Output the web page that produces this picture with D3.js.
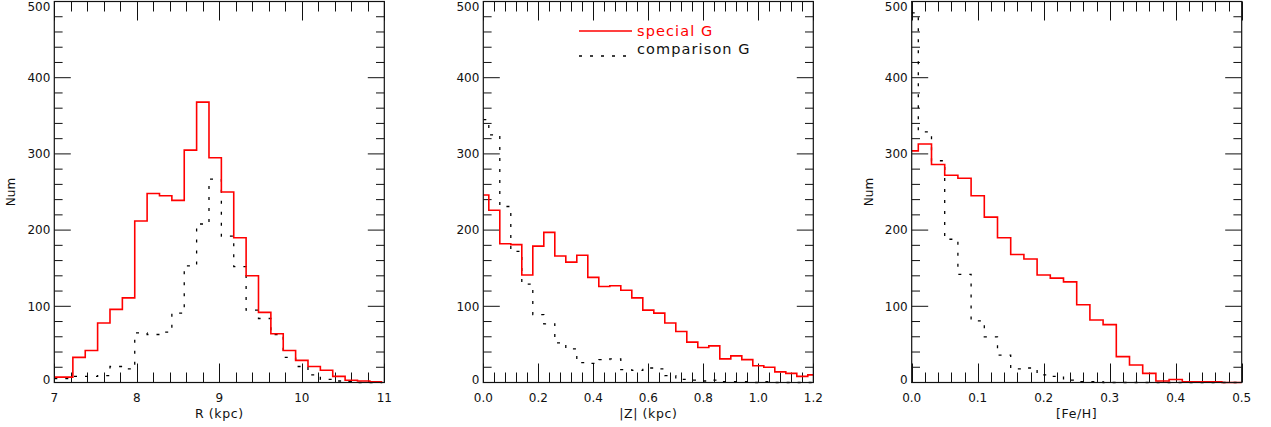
<!DOCTYPE html>
<html>
<head>
<meta charset="utf-8">
<script src="https://cdn.jsdelivr.net/npm/d3@7"></script>
<style>
  html, body { margin: 0; padding: 0; background: #fff; }
  svg { display: block; }
  text { font-family: "DejaVu Sans", sans-serif; fill: #111; }
</style>
</head>
<body>
<svg id="chart" width="1271" height="427"></svg>
<script>
// Galactocentric radius histogram (bin centres, kpc)
const rCenters = [7.00, 7.15, 7.30, 7.45, 7.60, 7.75, 7.90, 8.05, 8.20, 8.35, 8.50, 8.65, 8.80, 8.95,
                  9.10, 9.25, 9.40, 9.55, 9.70, 9.85, 10.00, 10.15, 10.30, 10.45, 10.60, 10.75, 10.90];
const rSpecial = [7, 7, 33, 42, 78, 96, 111, 212, 248, 245, 239, 305, 368, 295,
                  250, 190, 140, 92, 64, 42, 29, 21, 16, 8, 3, 2, 1];
const rComparison = [5, 5, 8, 8, 9, 21, 18, 65, 63, 66, 91, 153, 208, 267,
                     192, 152, 95, 84, 63, 33, 21, 10, 4, 2, 1, 0, 0];

// Height above the plane |Z| (bin centres, kpc)
const zCenters = [0.00, 0.04, 0.08, 0.12, 0.16, 0.20, 0.24, 0.28, 0.32, 0.36, 0.40, 0.44, 0.48, 0.52, 0.56, 0.60,
                  0.64, 0.68, 0.72, 0.76, 0.80, 0.84, 0.88, 0.92, 0.96, 1.00, 1.04, 1.08, 1.12, 1.16, 1.20];
const zSpecial = [246, 226, 182, 181, 141, 179, 197, 166, 158, 167, 138, 126, 127, 121, 111, 95,
                  91, 78, 67, 53, 46, 48, 31, 35, 30, 22, 20, 14, 12, 8, 10];
const zComparison = [345, 325, 231, 172, 129, 89, 77, 52, 44, 26, 25, 30, 31, 17, 16, 19,
                     18, 9, 4, 3, 2, 3, 1, 1, 1, 0, 1, 0, 0, 0, 0];

// Metallicity [Fe/H] (bin centres, dex)
const fehCenters = [0.00, 0.02, 0.04, 0.06, 0.08, 0.10, 0.12, 0.14, 0.16, 0.18, 0.20, 0.22, 0.24,
                    0.26, 0.28, 0.30, 0.32, 0.34, 0.36, 0.38, 0.40, 0.42, 0.44, 0.46, 0.48, 0.50];
const fehSpecial = [304, 313, 286, 272, 268, 245, 217, 190, 168, 162, 141, 137, 132,
                    102, 82, 76, 34, 23, 12, 2, 4, 1, 1, 1, 0, 0];
const fehComparison = [485, 329, 291, 188, 142, 81, 60, 36, 18, 19, 10, 8, 3,
                       1, 1, 0, 0, 0, 0, 0, 0, 0, 0, 0, 0, 0];

// Axis ticks
const rTicks = [7, 8, 9, 10, 11];
const zTicks = [0.0, 0.2, 0.4, 0.6, 0.8, 1.0, 1.2];
const fehTicks = [0.0, 0.1, 0.2, 0.3, 0.4, 0.5];
const numTicks = [0, 100, 200, 300, 400, 500];

const seriesNames = ["special G", "comparison G"];

const svg = d3.select("#chart");
const plotW = 330, plotTop = 1.5, plotBottom = 382.5;
const dotted = "3,8";

const panels = [
  { left: 54.3, domain: [7, 11], width: 0.15, centers: rCenters, special: rSpecial, comp: rComparison,
    ticks: rTicks, minor: 0.2, fmt: d3.format("d"), title: "R (kpc)", yTitle: true },
  { left: 483.3, domain: [0, 1.2], width: 0.04, centers: zCenters, special: zSpecial, comp: zComparison,
    ticks: zTicks, minor: 0.04, fmt: d3.format(".1f"), title: "|Z| (kpc)", yTitle: false, legend: true },
  { left: 911.7, domain: [0, 0.5], width: 0.02, centers: fehCenters, special: fehSpecial, comp: fehComparison,
    ticks: fehTicks, minor: 0.02, fmt: d3.format(".1f"), title: "[Fe/H]", yTitle: true }
];

const y = d3.scaleLinear().domain([0, 500]).range([plotBottom, plotTop]);

// Histogram outline: one horizontal run per bin, clipped to the axis range
function stepPoints(centers, values, w, domain) {
  const pts = centers.map((c, i) => [Math.max(c - w / 2, domain[0]), values[i]]);
  const last = centers.length - 1;
  pts.push([Math.min(centers[last] + w / 2, domain[1]), values[last]]);
  return pts;
}

panels.forEach(p => {
  const x = d3.scaleLinear().domain(p.domain).range([p.left, p.left + plotW]);
  const g = svg.append("g");

  // minor / major tick values
  const nMinor = Math.round((p.domain[1] - p.domain[0]) / p.minor);
  const minorX = d3.range(nMinor + 1).map(i => p.domain[0] + i * p.minor);
  const minorY = d3.range(0, 501, 20);

  const tickG = g.append("g").attr("stroke", "#111").attr("stroke-width", 1);
  minorX.forEach(v => {
    const isMajor = p.ticks.some(t => Math.abs(t - v) < 1e-9);
    const len = isMajor ? 19 : 10;
    const xv = Math.round(x(v)) + 0.5;
    tickG.append("line").attr("x1", xv).attr("x2", xv).attr("y1", plotBottom).attr("y2", plotBottom - len);
    tickG.append("line").attr("x1", xv).attr("x2", xv).attr("y1", plotTop).attr("y2", plotTop + len);
  });
  minorY.forEach(v => {
    const isMajor = v % 100 === 0;
    const len = isMajor ? 16.5 : 8.3;
    const yv = y(v);
    tickG.append("line").attr("x1", p.left).attr("x2", p.left + len).attr("y1", yv).attr("y2", yv);
    tickG.append("line").attr("x1", p.left + plotW).attr("x2", p.left + plotW - len).attr("y1", yv).attr("y2", yv);
  });

  // histograms
  const line = d3.line().x(d => x(d[0])).y(d => y(d[1])).curve(d3.curveStepAfter);
  g.append("path")
    .attr("d", line(stepPoints(p.centers, p.comp, p.width, p.domain)))
    .attr("fill", "none").attr("stroke", "#000").attr("stroke-width", 1.3)
    .attr("stroke-dasharray", dotted);
  g.append("path")
    .attr("d", line(stepPoints(p.centers, p.special, p.width, p.domain)))
    .attr("fill", "none").attr("stroke", "#ff0000").attr("stroke-width", 1.6);

  // frame
  g.append("rect")
    .attr("x", p.left).attr("y", plotTop).attr("width", plotW).attr("height", plotBottom - plotTop)
    .attr("fill", "none").attr("stroke", "#111").attr("stroke-width", 1.2);

  // tick labels
  p.ticks.forEach(t => {
    g.append("text").attr("x", x(t)).attr("y", 402)
      .attr("text-anchor", "middle").attr("font-size", 12).text(p.fmt(t));
  });
  numTicks.forEach(t => {
    const cy = Math.min(Math.max(y(t), plotTop + 5), plotBottom - 3);
    g.append("text").attr("x", p.left - 4).attr("y", cy + 4.3)
      .attr("text-anchor", "end").attr("font-size", 12).text(t);
  });

  // axis titles
  g.append("text").attr("x", p.left + plotW / 2).attr("y", 418)
    .attr("text-anchor", "middle").attr("font-size", 12.5).attr("letter-spacing", 0.6).text(p.title);
  if (p.yTitle) {
    const cx = p.left - 43, cy = (plotTop + plotBottom) / 2;
    g.append("text").attr("transform", `translate(${cx + 4},${cy}) rotate(-90)`)
      .attr("text-anchor", "middle").attr("font-size", 12).text("Num");
  }

  // legend
  if (p.legend) {
    const lx0 = 579, lx1 = 632, tx = 637;
    g.append("line").attr("x1", lx0).attr("x2", lx1).attr("y1", 31).attr("y2", 31)
      .attr("stroke", "#ff0000").attr("stroke-width", 1.6);
    g.append("text").attr("x", tx).attr("y", 36).attr("font-size", 14.5)
      .attr("letter-spacing", 1.1).style("fill", "#ff0000").text(seriesNames[0]);
    g.append("line").attr("x1", lx0).attr("x2", lx1).attr("y1", 56).attr("y2", 56)
      .attr("stroke", "#000").attr("stroke-width", 1.3).attr("stroke-dasharray", dotted);
    g.append("text").attr("x", tx).attr("y", 54).attr("font-size", 14.5)
      .attr("letter-spacing", 1.1).text(seriesNames[1]);
  }
});
</script>
</body>
</html>
